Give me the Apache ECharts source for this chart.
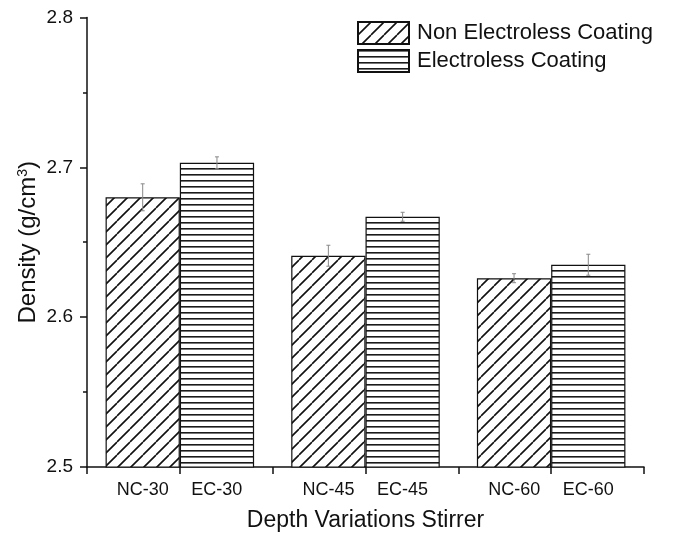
<!DOCTYPE html>
<html>
<head>
<meta charset="utf-8">
<script src="https://cdn.jsdelivr.net/npm/echarts@6/dist/echarts.min.js"></script>
<style>
  html, body { margin: 0; padding: 0; background: #fff; }
  #chart { width: 680px; height: 537px; }
</style>
</head>
<body>
<div id="chart"></div>
<script>
// data
const groups = ['30', '45', '60'];
const ncLabels = ['NC-30', 'NC-45', 'NC-60'];
const ecLabels = ['EC-30', 'EC-45', 'EC-60'];
const tickNames = ['NC-30', 'EC-30', 'NC-45', 'EC-45', 'NC-60', 'EC-60'];
const ncDensity = [2.680, 2.641, 2.626];
const ecDensity = [2.703, 2.667, 2.635];
const ncErr = [0.009, 0.007, 0.003];
const ecErr = [0.004, 0.003, 0.007];
const yMin = 2.5, yMax = 2.8, yStep = 0.1;

const FONT = 'Liberation Sans, Arial, sans-serif';

// fill patterns (hatching like the origin plot)
function makePattern(w, h, draw) {
    const c = document.createElement('canvas');
    c.width = w; c.height = h;
    const ctx = c.getContext('2d');
    ctx.fillStyle = '#fff';
    ctx.fillRect(0, 0, w, h);
    draw(ctx, w, h);
    return { image: c, repeat: 'repeat' };
}
const diagPattern = makePattern(13, 13, (ctx, w, h) => {
    ctx.strokeStyle = '#111';
    ctx.lineWidth = 1.6;
    ctx.beginPath();
    [-w, 0, w].forEach(off => {
        ctx.moveTo(off, h);
        ctx.lineTo(off + w, 0);
    });
    ctx.stroke();
});
const horizPattern = makePattern(4, 6, (ctx, w, h) => {
    ctx.fillStyle = '#1a1a1a';
    ctx.fillRect(0, 0, w, 1.6);
});

// error bars drawn on top of the bars
function errorSeries(values, errs, side) {
    return {
        type: 'custom',
        xAxisIndex: 0,
        z: 5,
        silent: true,
        renderItem: (params, api) => {
            const i = api.value(0);
            const v = api.value(1);
            const e = api.value(2);
            const band = api.size([1, 0])[0];
            const top = api.coord([i, v + e]);
            const bot = api.coord([i, v - e]);
            const x = top[0] + side * band * 0.2;
            const style = { stroke: '#888', lineWidth: 1 };
            return {
                type: 'group',
                children: [
                    { type: 'line', shape: { x1: x, y1: top[1], x2: x, y2: bot[1] }, style },
                    { type: 'line', shape: { x1: x - 2, y1: top[1], x2: x + 2, y2: top[1] }, style },
                    { type: 'line', shape: { x1: x - 2, y1: bot[1], x2: x + 2, y2: bot[1] }, style }
                ]
            };
        },
        data: values.map((v, i) => [i, v, errs[i]])
    };
}

const myChart = echarts.init(document.getElementById('chart'), null, { renderer: 'canvas' });

const option = {
    animation: false,
    backgroundColor: '#fff',
    textStyle: { fontFamily: FONT, color: '#111' },
    grid: { left: 87, right: 36, top: 17.5, bottom: 69, containLabel: false },
    legend: {
        orient: 'vertical',
        left: 352,
        top: 16,
        icon: 'rect',
        itemWidth: 51,
        itemHeight: 22,
        itemGap: 4,
        selectedMode: false,
        textStyle: { fontFamily: FONT, fontSize: 22, color: '#111', padding: [0, 0, 0, 3] },
        data: ['Non Electroless Coating', 'Electroless Coating']
    },
    xAxis: [
        {
            type: 'category',
            data: groups,
            position: 'bottom',
            axisLine: { lineStyle: { color: '#111', width: 1.5 } },
            axisTick: { show: false },
            axisLabel: {
                interval: 0,
                margin: 14,
                formatter: (v, i) => `{a|${ncLabels[i]}}{b|${ecLabels[i]}}`,
                rich: {
                    a: { width: 74, align: 'center', fontSize: 18, fontFamily: FONT, color: '#111' },
                    b: { width: 74, align: 'center', fontSize: 18, fontFamily: FONT, color: '#111' }
                }
            },
            name: 'Depth Variations Stirrer',
            nameLocation: 'middle',
            nameGap: 42,
            nameMoveOverlap: false,
            nameTextStyle: { fontSize: 23, fontFamily: FONT, color: '#111' }
        },
        {
            type: 'category',
            data: tickNames,
            position: 'bottom',
            gridIndex: 0,
            axisLine: { show: false },
            axisTick: { show: true, length: 7, lineStyle: { color: '#111', width: 1.5 } },
            axisLabel: { show: false }
        }
    ],
    yAxis: {
        type: 'value',
        min: yMin,
        max: yMax,
        interval: yStep,
        axisLine: { show: true, lineStyle: { color: '#111', width: 1.5 } },
        axisTick: { show: true, length: 7, lineStyle: { color: '#111', width: 1.5 } },
        minorTick: { show: true, splitNumber: 2, length: 4, lineStyle: { color: '#111', width: 1.5 } },
        splitLine: { show: false },
        axisLabel: {
            margin: 14,
            fontSize: 19,
            fontFamily: FONT,
            color: '#111',
            formatter: v => v.toFixed(1)
        },
        name: 'Density (g/cm{sup|3})',
        nameLocation: 'middle',
        nameGap: 46,
        nameMoveOverlap: false,
        nameTextStyle: {
            fontSize: 24,
            fontFamily: FONT,
            color: '#111',
            rich: {
                sup: { fontSize: 14, fontFamily: FONT, color: '#111', verticalAlign: 'top', padding: [0, 0, 11, 0] }
            }
        }
    },
    series: [
        {
            name: 'Non Electroless Coating',
            type: 'bar',
            xAxisIndex: 0,
            barGap: '0%',
            barCategoryGap: '20%',
            itemStyle: { color: diagPattern, borderColor: '#111', borderWidth: 1.2 },
            data: ncDensity
        },
        {
            name: 'Electroless Coating',
            type: 'bar',
            xAxisIndex: 0,
            barGap: '0%',
            barCategoryGap: '20%',
            itemStyle: { color: horizPattern, borderColor: '#111', borderWidth: 1.2 },
            data: ecDensity
        },
        errorSeries(ncDensity, ncErr, -1),
        errorSeries(ecDensity, ecErr, 1)
    ]
};
myChart.setOption(option);
</script>
</body>
</html>
